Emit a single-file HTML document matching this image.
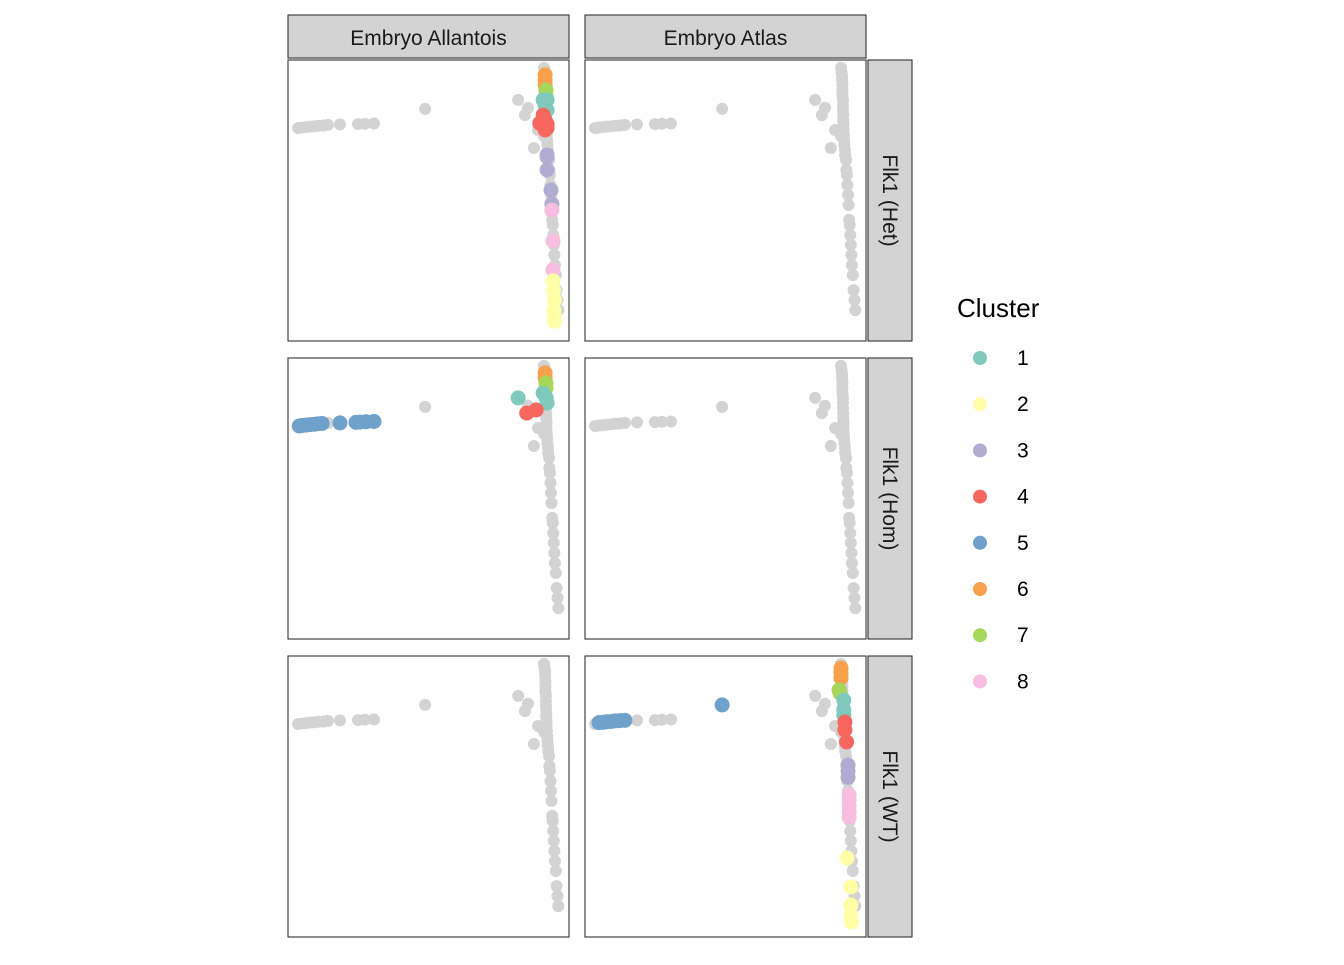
<!DOCTYPE html>
<html><head><meta charset="utf-8"><style>
body{margin:0;background:#fff;font-family:"Liberation Sans",Arial,sans-serif}
</style></head><body>
<svg id="chart" width="1344" height="960" viewBox="0 0 1344 960" xmlns="http://www.w3.org/2000/svg" font-family="Liberation Sans, Arial, sans-serif"></svg>
<script>
const colLabels=["Embryo Allantois","Embryo Atlas"];
const rowLabels=["Flk1 (Het)","Flk1 (Hom)","Flk1 (WT)"];
const clusterIds=[1,2,3,4,5,6,7,8];
const clusterColors=["#7FC9BD","#FFFFA8","#B1ADD2","#F7675F","#6FA1CB","#F9A04D","#A6D65A","#F8BEE0"];
const bgX=[3.6,5,6.4,7.8,9.3,10.7,12.5,14.2,18.5,24.9,27.4,30.6,48.8,
 81.9,84.3,85.4,87.5,89,91.1,
 91.1,91.3,91.5,91.5,91.6,91.6,91.6,91.8,91.8,91.8,91.9,91.9,92,92,92.1,92.2,92.3,92.5,92.6,92.9,93,93.2,93.4,93.6,93.8,94,94.2,94.4,94.6,94.8,95,95.3,95.6,95.9,96.2];
const bgY=[24.2,24,23.9,23.7,23.6,23.4,23.3,23.1,22.9,22.8,22.7,22.6,17.4,
 14.2,19.6,17,31.3,24.9,27,
 2.8,4.3,5.7,7.1,8.9,10.7,12.5,14.2,16,17.8,19.6,21.4,23.1,24.9,26.7,28.5,30.2,32,33.8,35.6,39.1,40.9,44.5,48,51.6,56.9,58.7,62.3,65.8,69.4,73,76.5,81.9,85.4,89,92.5,96.1,97.9];
const p0X=[91.5,91.5,91.5,91.8,91.8,92.2,90.8,91.5,92.2,90.8,91.5,92.2,91.5,89.6,92.2,92.2,92.2,92.2,93.6,93.9,93.9,94.3,94.3,94.3,94.5,94.8,94.6,94.8,94.8];
const p0Y=[5.3,7.1,8.9,10.7,12.5,14.2,14.2,16,17.8,19.6,21.4,22.8,24.9,22.5,24.2,33.8,34.5,39.1,46.3,51.2,53.4,64.4,74.7,78.6,82,85.4,89,90.7,93];
const p0C=[6,6,6,7,7,1,1,1,1,4,4,4,4,4,4,3,3,3,3,3,8,8,8,2,2,2,2,2,2];
const p1X=[4,5,6.4,7.8,9.3,10.7,12.1,18.5,24.2,25.6,27.7,30.6,91.5,91.5,91.8,91.8,81.9,90.8,91.9,92.2,85,88.3];
const p1Y=[24.2,24,23.9,23.7,23.6,23.4,23.3,23.1,22.9,22.8,22.7,22.6,5.3,7.1,8.9,10.7,14.2,12.5,14.2,16,19.6,18.5];
const p1C=[5,5,5,5,5,5,5,5,5,5,5,5,6,6,7,7,1,1,1,1,4,4];
const p5X=[5,6.4,7.8,9.3,10.7,12.5,14.2,48.8,91.1,91.1,91.1,90.4,90.8,92.1,92.1,92.1,92.5,92.5,93.1,93.6,93.6,93.6,94,94,94,94,94,93.2,94.6,94.6,94.6,94.9];
const p5Y=[23.7,23.6,23.4,23.3,23.1,23,22.9,17.4,4.3,6,7.8,12.1,13.2,15.7,19.2,21,23.5,26.3,30.6,38.8,41,43.2,49.5,51.2,53.4,55.5,57.3,71.9,82.2,88.6,92.2,94.7];
const p5C=[5,5,5,5,5,5,5,5,6,6,6,7,7,1,1,1,4,4,4,3,3,3,8,8,8,8,8,2,2,2,2,2];
const panelPts=[[p0X,p0Y,p0C],[null,null,null],[p1X,p1Y,p1C],[null,null,null],[null,null,null],[p5X,p5Y,p5C]];

const svg=document.getElementById('chart');
const NS='http://www.w3.org/2000/svg';
function mk(t,a,p){const e=document.createElementNS(NS,t);for(const k in a)e.setAttribute(k,a[k]);(p||svg).appendChild(e);return e;}
const colX=[288,585],rowY=[60,358,656],PW=281,PH=281;
function sx(c,v){return colX[c]+v/100*PW;}
function sy(r,v){return rowY[r]+v/100*PH;}

colLabels.forEach((l,c)=>{
  const g=mk('g',{});
  
  
  mk('rect',{x:colX[c],y:15,width:PW,height:43,fill:'#D3D3D3',stroke:'#333','stroke-width':1.1},g);
  const t=mk('text',{x:colX[c]+PW/2,y:45,'text-anchor':'middle','font-size':21,fill:'#1a1a1a'},g);t.textContent=l;
});
rowLabels.forEach((l,r)=>{
  const g=mk('g',{});
  
  
  mk('rect',{x:868,y:rowY[r],width:44,height:PH,fill:'#D3D3D3',stroke:'#333','stroke-width':1.1},g);
  const cx=883,cy=rowY[r]+PH/2;
  const t=mk('text',{x:cx,y:cy,'text-anchor':'middle','font-size':21,fill:'#1a1a1a',transform:`rotate(90 ${cx} ${cy})`},g);t.textContent=l;
});
for(let r=0;r<3;r++)for(let c=0;c<2;c++){
  const i=r*2+c;
  const g=mk('g',{});
  
  
  mk('rect',{x:colX[c],y:rowY[r],width:PW,height:PH,fill:'#fff',stroke:'#333','stroke-width':1.1},g);
  bgX.forEach((x,k)=>{
    const p=mk('circle',{cx:sx(c,x),cy:sy(r,bgY[k]),r:6,fill:'#D3D3D3'},g);
    
    
  });
  const [X,Y,C]=panelPts[i];
  if(X)X.forEach((x,k)=>{
    const p=mk('circle',{cx:sx(c,x),cy:sy(r,Y[k]),r:7.5,fill:clusterColors[C[k]-1]},g);
    
    
  });
}
const lg=mk('g',{});


const lt=mk('text',{x:957,y:317,'font-size':26,fill:'#000'},lg);lt.textContent='Cluster';


clusterIds.forEach((id,k)=>{
  const e=mk('g',{},lg);
  
  
  const y=358+k*46.2;
  mk('circle',{cx:980,cy:y,r:7,fill:clusterColors[k]},e);
  const t=mk('text',{x:1017,y:y+7,'font-size':21,fill:'#000'},e);t.textContent=id;
});
</script>
</body></html>
